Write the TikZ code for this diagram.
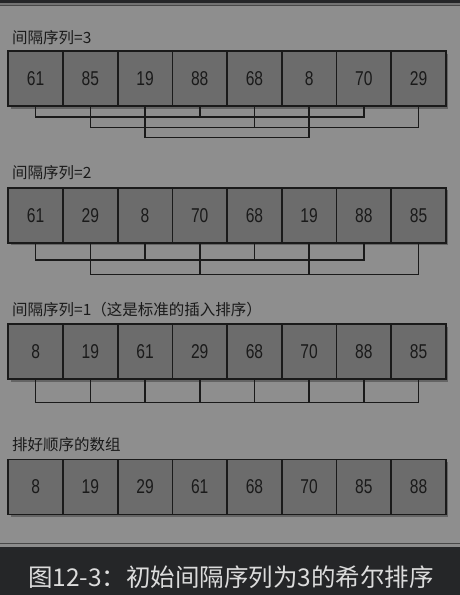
\documentclass[tikz,border=0pt]{standalone}
\usepackage{fontspec}
\usetikzlibrary{shadows}
\newfontfamily\cjk{Noto Sans CJK SC}
\newfontfamily\numfont[FakeStretch=0.78]{Liberation Sans}
\definecolor{bggray}{HTML}{8E8E8E}
\definecolor{boxgray}{HTML}{6C6C6C}
\definecolor{darkband}{HTML}{252628}
\definecolor{inkdark}{HTML}{1A1A1A}
\definecolor{captext}{HTML}{DCDCDC}
\tikzset{
  cell/.style={draw=inkdark, line width=1.8pt, fill=boxgray, minimum width=54.7pt,
    minimum height=55pt, inner sep=0pt, outer sep=0pt, text=inkdark,
    font=\numfont\fontsize{20}{22}\selectfont,
    drop shadow={opacity=0.45, shadow xshift=2.5pt, shadow yshift=-2.5pt, fill=black!80}},
  rowlabel/.style={anchor=west, inner sep=0pt, text=inkdark, font=\cjk\fontsize{15.5}{17}\selectfont},
  link/.style={draw=inkdark, line width=1.6pt},
}
\begin{document}
\begin{tikzpicture}[x=1pt,y=-1pt]
\useasboundingbox (0,0) rectangle (460,595);
% background
\fill[bggray] (0,0) rectangle (460,595);
\fill[darkband] (0,0) rectangle (460,3.3);
\fill[black!55] (0,3.3) rectangle (460,5);
\fill[inkdark!80] (0,5) rectangle (460,6.3);
\fill[inkdark!80] (0,542.5) rectangle (460,544.2);
\fill[black!45] (0,544.2) rectangle (460,547);
\fill[darkband] (0,547) rectangle (460,595);
\node[text=captext, font=\cjk\fontsize{24.5}{26}\selectfont, inner sep=0pt] (cap) at (231,577) {图12-3：初始间隔序列为3的希尔排序};

% row labels
\node[rowlabel] (l1) at (12,38) {间隔序列=3};
\node[rowlabel] (l2) at (12,173) {间隔序列=2};
\node[rowlabel] (l3) at (12,310) {间隔序列=1（这是标准的插入排序）};
\node[rowlabel] (l4) at (12,445) {排好顺序的数组};

% rows of cells
\foreach \v [count=\i] in {61,85,19,88,68,8,70,29}
  \node[cell] (a\i) at ({35.65+(\i-1)*54.7},78.5) {\v};
\foreach \v [count=\i] in {61,29,8,70,68,19,88,85}
  \node[cell] (b\i) at ({35.65+(\i-1)*54.7},215.3) {\v};
\foreach \v [count=\i] in {8,19,61,29,68,70,88,85}
  \node[cell] (c\i) at ({35.65+(\i-1)*54.7},351.8) {\v};
\foreach \v [count=\i] in {8,19,29,61,68,70,85,88}
  \node[cell] (d\i) at ({35.65+(\i-1)*54.7},487) {\v};

% gap 3 connectors
\coordinate (g31) at (0,117);
\coordinate (g32) at (0,127.5);
\coordinate (g33) at (0,137.5);
\draw[link] (a1.south) |- (a7.south |- g31) -- (a7.south);
\draw[link] (a4.south) -- (a4.south |- g31);
\draw[link] (a2.south) |- (a8.south |- g32) -- (a8.south);
\draw[link] (a5.south) -- (a5.south |- g32);
\draw[link] (a3.south) |- (a6.south |- g33) -- (a6.south);

% gap 2 connectors
\coordinate (g21) at (0,260);
\coordinate (g22) at (0,274.5);
\draw[link] (b1.south) |- (b7.south |- g21) -- (b7.south);
\draw[link] (b3.south) -- (b3.south |- g21);
\draw[link] (b5.south) -- (b5.south |- g21);
\draw[link] (b2.south) |- (b8.south |- g22) -- (b8.south);
\draw[link] (b4.south) -- (b4.south |- g22);
\draw[link] (b6.south) -- (b6.south |- g22);

% gap 1 connectors
\coordinate (g11) at (0,402.5);
\draw[link] (c1.south) |- (c8.south |- g11) -- (c8.south);
\foreach \i in {2,...,7}
  \draw[link] (c\i.south) -- (c\i.south |- g11);
\end{tikzpicture}
\end{document}
